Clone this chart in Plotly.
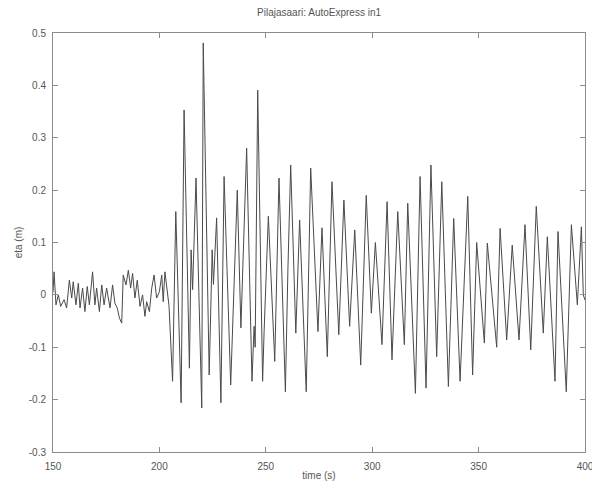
import plotly.graph_objects as go

# Surface elevation record, Pihlajasaari – AutoExpress run 1
# Quiet pre-arrival phase (noise around still water level)
t_quiet = [150.0, 150.5, 151.4, 152.5, 153.6, 155.2, 156.4, 157.7, 158.8, 159.5,
           160.8, 161.9, 162.7, 163.9, 165.0, 166.1, 167.1, 168.6, 169.7, 170.5,
           171.8, 172.9, 174.0, 175.2, 176.8, 178.0, 179.1, 180.2, 181.2, 182.3,
           183.0, 184.3, 185.4, 186.5, 187.4, 188.5, 189.6, 190.9, 192.1, 193.2,
           194.0, 195.3, 196.4, 197.5, 198.7, 200.0, 201.1, 201.8, 202.6, 203.7,
           204.5]
eta_quiet = [0.005, 0.044, -0.019, 0.000, -0.022, -0.009, -0.025, 0.028, -0.006, 0.025,
             -0.019, 0.022, -0.025, 0.013, -0.032, 0.016, -0.019, 0.044, -0.019, 0.013,
             -0.032, 0.019, -0.019, 0.013, -0.025, 0.019, -0.016, -0.025, -0.044, -0.054,
             0.038, 0.019, 0.047, 0.013, 0.041, -0.006, 0.028, -0.022, 0.000, -0.041,
             -0.013, -0.032, 0.013, 0.038, -0.006, 0.006, 0.038, -0.013, 0.044, 0.010,
             -0.020]

# Ship wake train: wave crests and troughs
t_wake = [206.2, 207.7, 210.2, 211.6, 214.1, 214.9, 215.6, 217.2, 219.9, 220.6,
          223.4, 224.8, 225.4, 226.9, 228.9, 230.4, 233.5, 236.6, 238.3, 241.0,
          243.5, 244.5, 245.0, 246.2, 248.5, 249.2, 251.2, 254.2, 256.2, 259.2,
          260.4, 261.7, 264.1, 265.9, 269.0, 271.1, 274.5, 276.4, 278.9, 281.1,
          284.3, 286.7, 289.4, 291.8, 294.6, 297.2, 299.6, 301.5, 304.6, 307.0,
          309.3, 312.0, 315.1, 316.7, 320.3, 322.5, 325.3, 327.6, 330.3, 332.7,
          335.8, 338.3, 341.3, 344.9, 347.2, 349.1, 352.7, 354.1, 358.5, 360.1,
          363.2, 365.8, 369.0, 371.8, 374.5, 377.1, 380.4, 382.3, 385.9, 387.3,
          391.2, 393.6, 396.4, 398.3, 399.2, 400.0]
eta_wake = [-0.165, 0.159, -0.206, 0.353, -0.140, 0.086, 0.010, 0.223, -0.216, 0.481,
            -0.153, 0.086, 0.020, 0.147, -0.206, 0.226, -0.172, 0.200, -0.063, 0.280,
            -0.165, -0.060, -0.100, 0.391, -0.165, -0.070, 0.150, -0.127, 0.223, -0.185,
            0.050, 0.248, -0.073, 0.143, -0.185, 0.242, -0.070, 0.128, -0.118, 0.216,
            -0.076, 0.181, -0.060, 0.124, -0.134, 0.190, -0.035, 0.100, -0.095, 0.178,
            -0.124, 0.159, -0.095, 0.175, -0.188, 0.226, -0.178, 0.248, -0.118, 0.216,
            -0.175, 0.146, -0.165, 0.188, -0.153, 0.100, -0.092, 0.099, -0.100, 0.127,
            -0.086, 0.095, -0.086, 0.134, -0.105, 0.169, -0.073, 0.111, -0.165, 0.121,
            -0.185, 0.134, -0.019, 0.130, 0.000, -0.010]

x_ticks = [150, 200, 250, 300, 350, 400]
y_ticks = [-0.3, -0.2, -0.1, 0, 0.1, 0.2, 0.3, 0.4, 0.5]
y_tick_text = ["-0.3", "-0.2", "-0.1", "0", "0.1", "0.2", "0.3", "0.4", "0.5"]

t = t_quiet + t_wake
eta = eta_quiet + eta_wake

FONT = "Liberation Sans, Arial, sans-serif"
TEXT_GREY = "#555555"
AXIS_GREY = "#8c8c8c"

fig = go.Figure(go.Scatter(
    x=t, y=eta, mode="lines",
    line=dict(color="#4a4a4a", width=1),
    hoverinfo="skip", showlegend=False,
))

axis_common = dict(
    showgrid=False, zeroline=False, automargin=False,
    showline=True, linecolor=AXIS_GREY, linewidth=1, mirror="ticks",
    ticks="inside", ticklen=5, tickcolor=AXIS_GREY, tickwidth=1,
    ticklabeloverflow="allow",
    tickfont=dict(family=FONT, size=10, color=TEXT_GREY),
)

fig.update_layout(
    width=592, height=481,
    margin=dict(l=53, r=7, t=33, b=29, autoexpand=False),
    paper_bgcolor="white", plot_bgcolor="white",
    title=dict(text="Pilajasaari: AutoExpress in1", x=0.539, xanchor="center",
               y=0.982, yanchor="top",
               font=dict(family=FONT, size=10, color=TEXT_GREY)),
    xaxis=dict(range=[150, 400], tickvals=x_ticks, ticktext=[str(v) for v in x_ticks],
               ticklabelstandoff=5,
               title=dict(text="time (s)", standoff=10,
                          font=dict(family=FONT, size=10, color=TEXT_GREY)),
               **axis_common),
    yaxis=dict(range=[-0.3, 0.5], tickvals=y_ticks, ticktext=y_tick_text,
               ticklabelstandoff=4,
               title=dict(text="eta (m)", standoff=4,
                          font=dict(family=FONT, size=10, color=TEXT_GREY)),
               **axis_common),
)

fig.write_html("out.html")
